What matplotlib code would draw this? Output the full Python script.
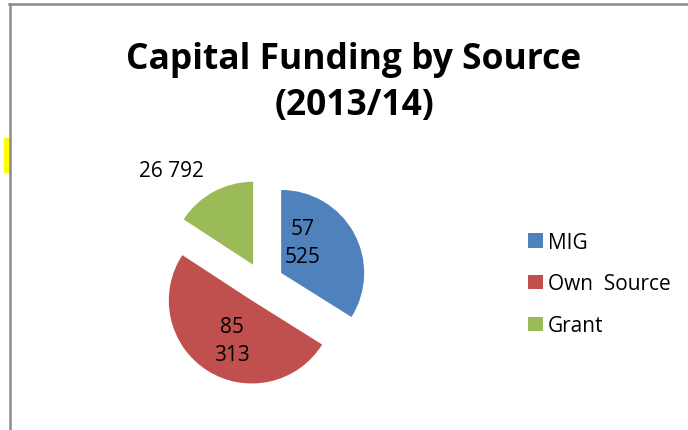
import numpy as np
import matplotlib
matplotlib.use('Agg')
import matplotlib.pyplot as plt
from matplotlib.lines import Line2D
from matplotlib.patches import Rectangle

sources = ['MIG', 'Own  Source', 'Grant']
amounts = [57525, 85313, 26792]
colours = ['#4F81BD', '#C0504D', '#9BBB59']

plt.rcParams['font.family'] = ['Open Sans', 'DejaVu Sans']

fig = plt.figure(figsize=(6.88, 4.31), dpi=100)
W, H = 688, 431
R = 83  # pie radius in pixels
cx, cy = 263, 284  # pie centre in pixels (from top)
half = 130
ax = fig.add_axes([(cx - half) / W, (H - cy - half) / H, 2 * half / W, 2 * half / H])

wedges, _ = ax.pie(amounts, colors=colours, startangle=90, counterclock=False,
                   explode=[0.25, 0.25, 0.25], radius=1,
                   wedgeprops=dict(linewidth=0))
lim = half / R
ax.set_xlim(-lim, lim)
ax.set_ylim(-lim, lim)
ax.set_aspect('equal')
ax.axis('off')

# data labels: (distance, angle in degrees) relative to each wedge apex
label_pos = [(0.45, 55), (0.54, 243), (1.5, 131)]
for w, v, (d, a) in zip(wedges, amounts, label_pos):
    s = f"{v:,}".replace(",", " ")
    if d < 1:
        s = s.replace(" ", "\n")
    x0, y0 = w.center
    ax.text(x0 + d * np.cos(np.radians(a)), y0 + d * np.sin(np.radians(a)), s,
            ha='center', va='center', fontsize=15, linespacing=1.45)

fig.legend(wedges, sources, loc='center left', bbox_to_anchor=(520 / W, 1 - 285 / H),
           frameon=False, fontsize=15, handlelength=0.68, handleheight=0.68,
           handletextpad=0.25, labelspacing=1.0, borderaxespad=0)

fig.text(354 / W, 1 - 83 / H, 'Capital Funding by Source\n(2013/14)', ha='center',
         va='center', fontsize=25.5, fontweight='bold', linespacing=1.4)

# chart frame and the yellow mark at the left
fig.add_artist(Line2D([9 / W, 1], [1 - 5 / H, 1 - 5 / H], color='#8c8c8c', lw=1.8))
fig.add_artist(Line2D([9.5 / W, 9.5 / W], [0, 1 - 5 / H], color='#8c8c8c', lw=1.8))
fig.add_artist(Rectangle((4 / W, 1 - 173 / H), 5 / W, 34 / H, color='#FFFF00',
                         transform=fig.transFigure))

fig.savefig('out.png', dpi=100)
